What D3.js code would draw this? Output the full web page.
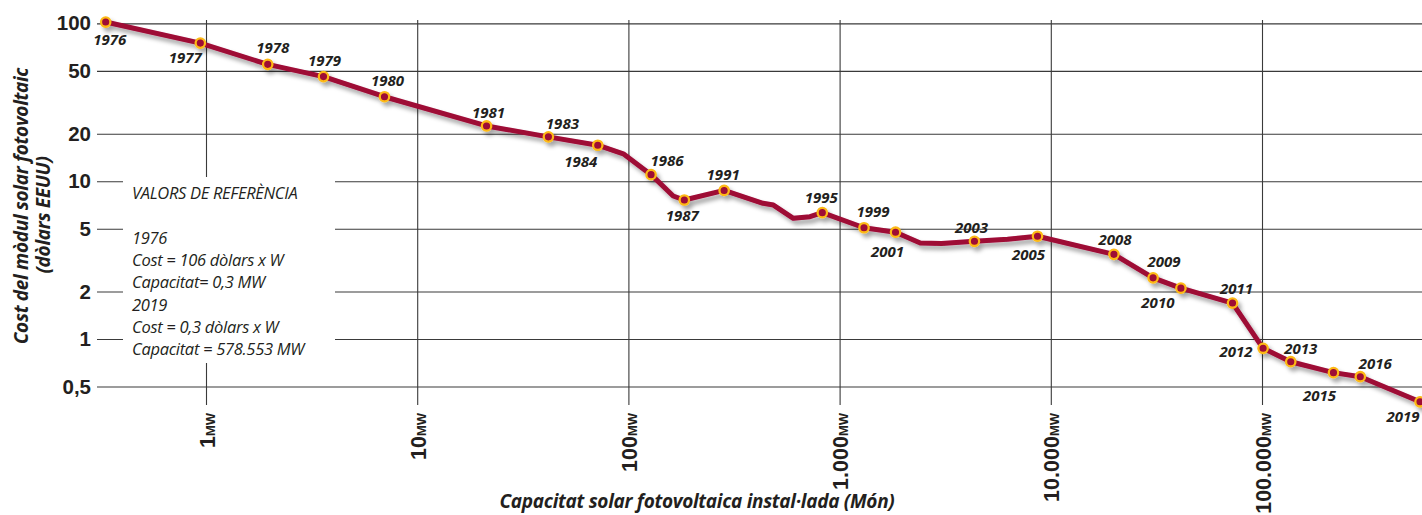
<!DOCTYPE html>
<html>
<head>
<meta charset="utf-8">
<script src="https://cdn.jsdelivr.net/npm/d3@7"></script>
<style>
  body { margin: 0; background: #fff; }
  svg text { fill: #231f20; }
</style>
</head>
<body>
<div id="chart"></div>
<script>
// Data (capacity in MW, cost in US dollars per W)
var capacityMW = [0.335, 0.94, 1.96, 3.6, 7.0, 21.3, 41.8, 71.6, 94.6, 128, 163, 184, 284,
    434, 486, 604, 724, 828, 1305, 1840, 2410, 3040, 4350, 6240, 8650, 19900, 30500,
    41300, 72500, 101200, 136800, 218000, 292000, 560000];
var costUSD = [102, 75, 55, 46, 34.3, 22.4, 19.1, 16.9, 14.9, 11.0, 8.06, 7.6, 8.74,
    7.24, 7.06, 5.82, 5.96, 6.32, 5.07, 4.75, 4.06, 4.03, 4.16, 4.28, 4.48, 3.44, 2.44,
    2.10, 1.69, 0.873, 0.718, 0.612, 0.577, 0.40];
// "" = intermediate vertex of the line, no marker
var yearLabels = ["1976", "1977", "1978", "1979", "1980", "1981", "1983", "1984", "", "1986", "",
    "1987", "1991", "", "", "", "", "1995", "1999", "2001", "", "", "2003", "", "2005", "2008",
    "2009", "2010", "2011", "2012", "2013", "2015", "2016", "2019"];

var yTicks = [100, 50, 20, 10, 5, 2, 1, 0.5];
var yTickLabels = ["100", "50", "20", "10", "5", "2", "1", "0,5"];
var xTicks = [1, 10, 100, 1000, 10000, 100000];
var xTickLabels = ["1", "10", "100", "1.000", "10.000", "100.000"];

var noteLines = ["VALORS DE REFERÈNCIA", "", "1976", "Cost = 106 dòlars x W", "Capacitat= 0,3 MW",
    "2019", "Cost = 0,3 dòlars x W", "Capacitat = 578.553 MW"];

// label placement relative to its dot: [dx, dy]
var labelOffset = {
    "1976": [4, 23], "1977": [-15, 20], "1978": [5, -11], "1979": [1, -11], "1980": [3, -11],
    "1981": [2, -8], "1983": [14, -8], "1984": [-17, 22], "1986": [16, -9], "1987": [-2, 21],
    "1991": [-1, -10], "1995": [-1, -10], "1999": [9, -11], "2001": [-8, 25], "2003": [-3, -8],
    "2005": [-9, 24], "2008": [1, -9], "2009": [11, -11], "2010": [-23, 20], "2011": [4, -9],
    "2012": [-27, 9], "2013": [10, -8], "2015": [-14, 28], "2016": [15, -8], "2019": [-17, 20]
};

var svgWidth = 1422;
var svgHeight = 515;
var red = "#9e0835";
var yellow = "#fdb913";

var svg = d3.select("#chart")
    .append("svg")
    .attr("width", svgWidth)
    .attr("height", svgHeight)
    .style("font-family", "'Open Sans', sans-serif");

var defs = svg.append("defs");
var shadow = defs.append("filter")
    .attr("id", "shadow")
    .attr("x", "-20%").attr("y", "-20%")
    .attr("width", "140%").attr("height", "160%");
shadow.append("feDropShadow")
    .attr("dx", 3).attr("dy", 4)
    .attr("stdDeviation", 2.2)
    .attr("flood-color", "#000")
    .attr("flood-opacity", 0.35);

// scales: one decade = 211.2 px across, 157.8 px up
var x = d3.scaleLog().domain([1, 100000]).range([206, 1262]);
var y = d3.scaleLog().domain([1, 100]).range([339, 23.4]);

var gridLeft = 97;
var gridTop = 20;
var gridBottom = 405;

// horizontal grid + y labels
var yAxis = d3.axisLeft(y)
    .tickValues(yTicks)
    .tickSize(-(svgWidth - gridLeft))
    .tickPadding(6)
    .tickFormat(function (d, i) { return yTickLabels[i]; });

var gy = svg.append("g")
    .attr("transform", `translate(${gridLeft},0)`)
    .call(yAxis);
gy.select(".domain").remove();
gy.selectAll(".tick line").attr("stroke", "#3a3a3a").attr("stroke-width", 1.1);
gy.selectAll(".tick text")
    .attr("x", -6)
    .style("font-size", "20.5px")
    .style("font-weight", 700)
    .attr("fill", "#231f20");

// vertical grid + x labels
var xAxis = d3.axisBottom(x)
    .tickValues(xTicks)
    .tickSize(-(gridBottom - gridTop))
    .tickFormat(function (d, i) { return xTickLabels[i]; });

var gx = svg.append("g")
    .attr("transform", `translate(0,${gridBottom})`)
    .call(xAxis);
gx.select(".domain").remove();
gx.selectAll(".tick line").attr("stroke", "#3a3a3a").attr("stroke-width", 1.1);
gx.selectAll(".tick text").each(function (d, i) {
    var t = d3.select(this);
    t.text(null)
        .attr("transform", "rotate(-90)")
        .attr("x", -8)
        .attr("y", 8)
        .attr("dy", 0)
        .attr("text-anchor", "end")
        .attr("fill", "#231f20")
        .style("font-weight", 700);
    t.append("tspan").style("font-size", "21.5px").text(xTickLabels[i]);
    t.append("tspan").style("font-size", "13px").text("MW");
});

// reference note box
svg.append("rect")
    .attr("x", 123).attr("y", 177)
    .attr("width", 212).attr("height", 186)
    .attr("fill", "#fff");

svg.append("g").selectAll("text")
    .data(noteLines)
    .enter()
    .append("text")
    .attr("x", 132)
    .attr("y", (d, i) => 198.5 + (i === 0 ? 0 : 45.5 + (i - 2) * 22.2))
    .style("font-size", "16.5px")
    .style("font-style", "italic")
    .style("letter-spacing", "-0.3px")
    .attr("fill", "#333")
    .text(d => d);

// the cost line and its markers
var points = capacityMW.map(function (c, i) {
    return { cap: c, cost: costUSD[i], year: yearLabels[i] };
});

var line = d3.line()
    .x(d => x(d.cap))
    .y(d => y(d.cost));

var series = svg.append("g").attr("filter", "url(#shadow)");
series.append("path")
    .datum(points)
    .attr("d", line)
    .attr("fill", "none")
    .attr("stroke", red)
    .attr("stroke-width", 5)
    .attr("stroke-linejoin", "round");

var marked = points.filter(d => d.year !== "");
series.selectAll("circle")
    .data(marked)
    .enter()
    .append("circle")
    .attr("cx", d => x(d.cap))
    .attr("cy", d => y(d.cost))
    .attr("r", 4.7)
    .attr("fill", red)
    .attr("stroke", yellow)
    .attr("stroke-width", 2.3);

svg.append("g").selectAll("text")
    .data(marked)
    .enter()
    .append("text")
    .attr("x", d => x(d.cap) + labelOffset[d.year][0])
    .attr("y", d => y(d.cost) + labelOffset[d.year][1])
    .attr("text-anchor", "middle")
    .style("font-size", "15px")
    .style("font-weight", 700)
    .style("font-style", "italic")
    .text(d => d.year);

// axis titles
svg.append("text")
    .attr("x", 697)
    .attr("y", 508)
    .attr("text-anchor", "middle")
    .style("font-size", "19px")
    .style("font-weight", 700)
    .style("font-style", "italic")
    .style("letter-spacing", "-0.3px")
    .text("Capacitat solar fotovoltaica instal·lada (Món)");

var yTitle = svg.append("text")
    .attr("transform", "translate(28,206) rotate(-90)")
    .attr("text-anchor", "middle")
    .style("font-size", "19px")
    .style("font-weight", 700)
    .style("font-style", "italic")
    .style("letter-spacing", "-0.3px");
yTitle.append("tspan").attr("x", 0).attr("y", 0).text("Cost del mòdul solar fotovoltaic");
yTitle.append("tspan").attr("x", -9).attr("y", 22).text("(dòlars EEUU)");
</script>
</body>
</html>
